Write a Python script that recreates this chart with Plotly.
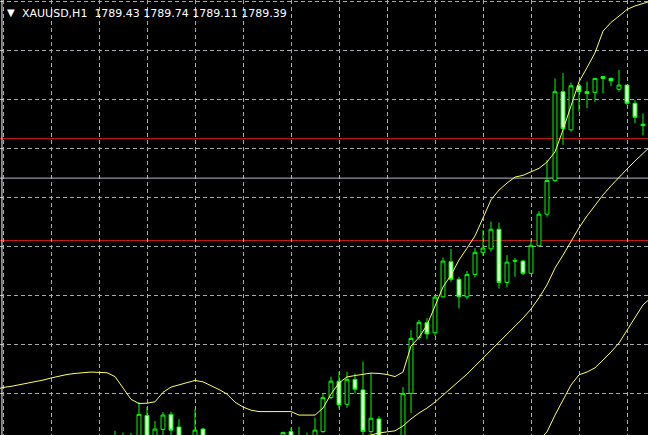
import plotly.graph_objects as go

# ---- data (XAUUSD H1) ----
bar_index = [14, 15, 16, 17, 18, 19, 20, 21, 22, 24, 25,
             35, 36, 37, 38, 39, 40, 41, 42, 43, 44, 45, 46, 47,
             50, 51, 52, 53, 54, 55, 56, 57, 58, 59, 60, 61, 62, 63, 64, 65,
             66, 67, 68, 69, 70, 71, 72, 73, 74, 75, 76, 77, 78, 79, 80]
opens = [1780.12, 1780.18, 1780.12, 1780.41, 1781.11, 1780.41, 1780.71, 1781.14, 1780.78, 1780.41, 1780.72,
         1780.35, 1780.65, 1780.49, 1780.35, 1780.41, 1780.65, 1781.62, 1782.09, 1781.43, 1782.14, 1781.84, 1780.65, 1781.01,
         1780.41, 1781.74, 1783.34, 1783.76, 1783.47, 1784.50, 1785.50, 1785.00, 1784.50, 1785.14, 1785.77, 1785.87, 1786.43, 1784.91, 1785.54, 1785.52,
         1785.17, 1785.96, 1786.86, 1787.82, 1790.36, 1789.27, 1790.53, 1790.36, 1790.34, 1790.79, 1790.74, 1790.43, 1790.55, 1790.03, 1789.43]
highs = [1780.67, 1780.62, 1780.61, 1781.49, 1781.35, 1780.95, 1781.21, 1781.21, 1781.00, 1781.29, 1780.76,
         1780.65, 1780.76, 1780.79, 1780.62, 1781.05, 1781.75, 1782.22, 1782.36, 1782.36, 1782.31, 1782.65, 1782.32, 1781.09,
         1781.92, 1783.55, 1783.84, 1783.89, 1784.55, 1785.62, 1785.87, 1785.07, 1785.24, 1785.89, 1786.41, 1786.65, 1786.62, 1785.69, 1785.61, 1785.55,
         1786.14, 1786.95, 1788.41, 1790.74, 1790.89, 1790.62, 1790.55, 1790.65, 1790.75, 1790.81, 1790.77, 1790.98, 1790.55, 1790.12, 1789.74]
lows = [1779.98, 1779.98, 1779.95, 1780.21, 1780.27, 1780.27, 1780.47, 1780.52, 1780.27, 1780.27, 1780.27,
        1780.27, 1780.24, 1780.21, 1780.27, 1780.27, 1780.61, 1781.58, 1781.31, 1781.32, 1781.74, 1780.52, 1780.58, 1780.27,
        1780.27, 1781.18, 1783.27, 1783.29, 1783.38, 1784.47, 1784.93, 1784.17, 1784.43, 1785.05, 1785.67, 1785.79, 1784.74, 1784.77, 1785.07, 1785.12,
        1785.15, 1785.93, 1786.79, 1787.78, 1788.84, 1789.22, 1789.79, 1789.89, 1790.07, 1790.31, 1790.52, 1790.36, 1789.98, 1789.46, 1789.11]
closes = [1780.41, 1780.41, 1780.38, 1781.14, 1780.41, 1780.72, 1781.12, 1780.69, 1780.41, 1780.69, 1780.41,
          1780.62, 1780.35, 1780.38, 1780.49, 1780.69, 1781.62, 1782.09, 1781.41, 1782.14, 1781.86, 1780.65, 1781.03, 1780.41,
          1781.74, 1783.31, 1783.77, 1783.44, 1784.49, 1785.52, 1785.00, 1784.50, 1785.14, 1785.77, 1785.89, 1786.43, 1784.91, 1785.49, 1785.52, 1785.17,
          1785.97, 1786.86, 1787.82, 1790.36, 1789.31, 1790.53, 1790.36, 1790.31, 1790.74, 1790.74, 1790.67, 1790.55, 1790.03, 1789.63, 1789.39]

# Bollinger bands
upper_index = list(range(-1, 82))
upper_band = [1781.84, 1781.91, 1781.94, 1781.98, 1782.02, 1782.07, 1782.12, 1782.18, 1782.24, 1782.28,
              1782.31, 1782.34, 1782.35, 1782.34, 1782.33, 1782.22, 1781.89, 1781.57, 1781.45, 1781.46,
              1781.50, 1781.77, 1781.92, 1781.99, 1782.05, 1782.11, 1782.07, 1781.97, 1781.85, 1781.72,
              1781.49, 1781.35, 1781.26, 1781.22, 1781.22, 1781.22, 1781.22, 1781.22, 1781.12, 1781.12,
              1781.12, 1781.32, 1781.72, 1782.04, 1782.21, 1782.25, 1782.29, 1782.32, 1782.31, 1782.28,
              1782.22, 1782.35, 1783.09, 1783.34, 1783.69, 1784.24, 1784.78, 1785.12, 1785.55, 1785.89,
              1786.24, 1786.75, 1787.27, 1787.55, 1787.75, 1787.92, 1787.97, 1788.07, 1788.17, 1788.35,
              1788.64, 1789.27, 1789.97, 1790.64, 1791.05, 1791.47, 1792.09, 1792.34, 1792.52, 1792.71,
              1792.81, 1792.89, 1792.95]
middle_index = list(range(44, 82))
middle_band = [1780.41, 1780.52, 1780.55, 1780.61, 1780.64, 1780.67, 1780.81, 1781.01, 1781.18, 1781.32,
               1781.49, 1781.69, 1781.87, 1782.07, 1782.29, 1782.52, 1782.75, 1782.98, 1783.21, 1783.41,
               1783.64, 1783.89, 1784.15, 1784.47, 1784.84, 1785.32, 1785.69, 1786.09, 1786.47, 1786.81,
               1787.12, 1787.41, 1787.67, 1787.92, 1788.15, 1788.38, 1788.61, 1788.81]
lower_index = list(range(67, 82))
lower_band = [1780.41, 1780.64, 1781.12, 1781.55, 1781.98, 1782.27, 1782.35, 1782.47, 1782.69, 1782.92,
              1783.18, 1783.55, 1783.89, 1784.27, 1784.47]

# horizontal levels
red_levels = [1789.02, 1786.11]
gray_level = 1787.89

header = "XAUUSD,H1\u00a0\u00a01789.43 1789.74 1789.11 1789.39"

# ---- figure ----
GREEN = "#00ff00"
YELLOW = "#ffff60"
GRID = "#a8a8b0"

fig = go.Figure()

for lvl in red_levels:
    fig.add_hline(y=lvl, line=dict(color="#d01818", width=1), layer="below")
fig.add_hline(y=gray_level, line=dict(color="#b8bcc8", width=1), layer="below")

for xs, ys in [(upper_index, upper_band), (middle_index, middle_band), (lower_index, lower_band)]:
    fig.add_trace(go.Scatter(x=xs, y=ys, mode="lines",
                             line=dict(color=YELLOW, width=1), hoverinfo="skip"))

fig.add_trace(go.Candlestick(
    x=bar_index, open=opens, high=highs, low=lows, close=closes,
    increasing=dict(line=dict(color=GREEN, width=1), fillcolor="#000000"),
    decreasing=dict(line=dict(color=GREEN, width=1), fillcolor="#d8ffd0"),
    whiskerwidth=0,
))

fig.add_annotation(x=0.008, y=0.971, xref="paper", yref="paper", xanchor="left", yanchor="middle",
                   text="\u25bc", showarrow=False, font=dict(family="DejaVu Sans", size=10, color="white"))
fig.add_annotation(x=0.031, y=0.970, xref="paper", yref="paper", xanchor="left", yanchor="middle",
                   text=header, showarrow=False, font=dict(family="DejaVu Sans", size=11, color="white"))

fig.add_shape(type="line", xref="paper", yref="paper", x0=0.003, x1=0.003, y0=0, y1=1,
              line=dict(color="white", width=1))

fig.update_layout(
    width=648, height=435,
    margin=dict(l=0, r=0, t=0, b=0),
    paper_bgcolor="black", plot_bgcolor="black",
    showlegend=False,
    boxgap=0.3,
    xaxis=dict(range=[-0.375, 80.625], showticklabels=False, zeroline=False,
               tick0=0, dtick=6, showgrid=True, gridcolor=GRID, griddash="4px,3px", gridwidth=1,
               rangeslider=dict(visible=False), fixedrange=True),
    yaxis=dict(range=[1780.551, 1792.98], showticklabels=False, zeroline=False,
               tick0=1792.943, dtick=1.4, showgrid=True, gridcolor=GRID, griddash="4px,3px", gridwidth=1,
               fixedrange=True),
)

fig.write_html("out.html", config={"displayModeBar": False},
               post_script="document.body.style.margin='0';document.body.style.padding='0';"
                           "document.body.style.background='black';document.body.style.overflow='hidden';")
